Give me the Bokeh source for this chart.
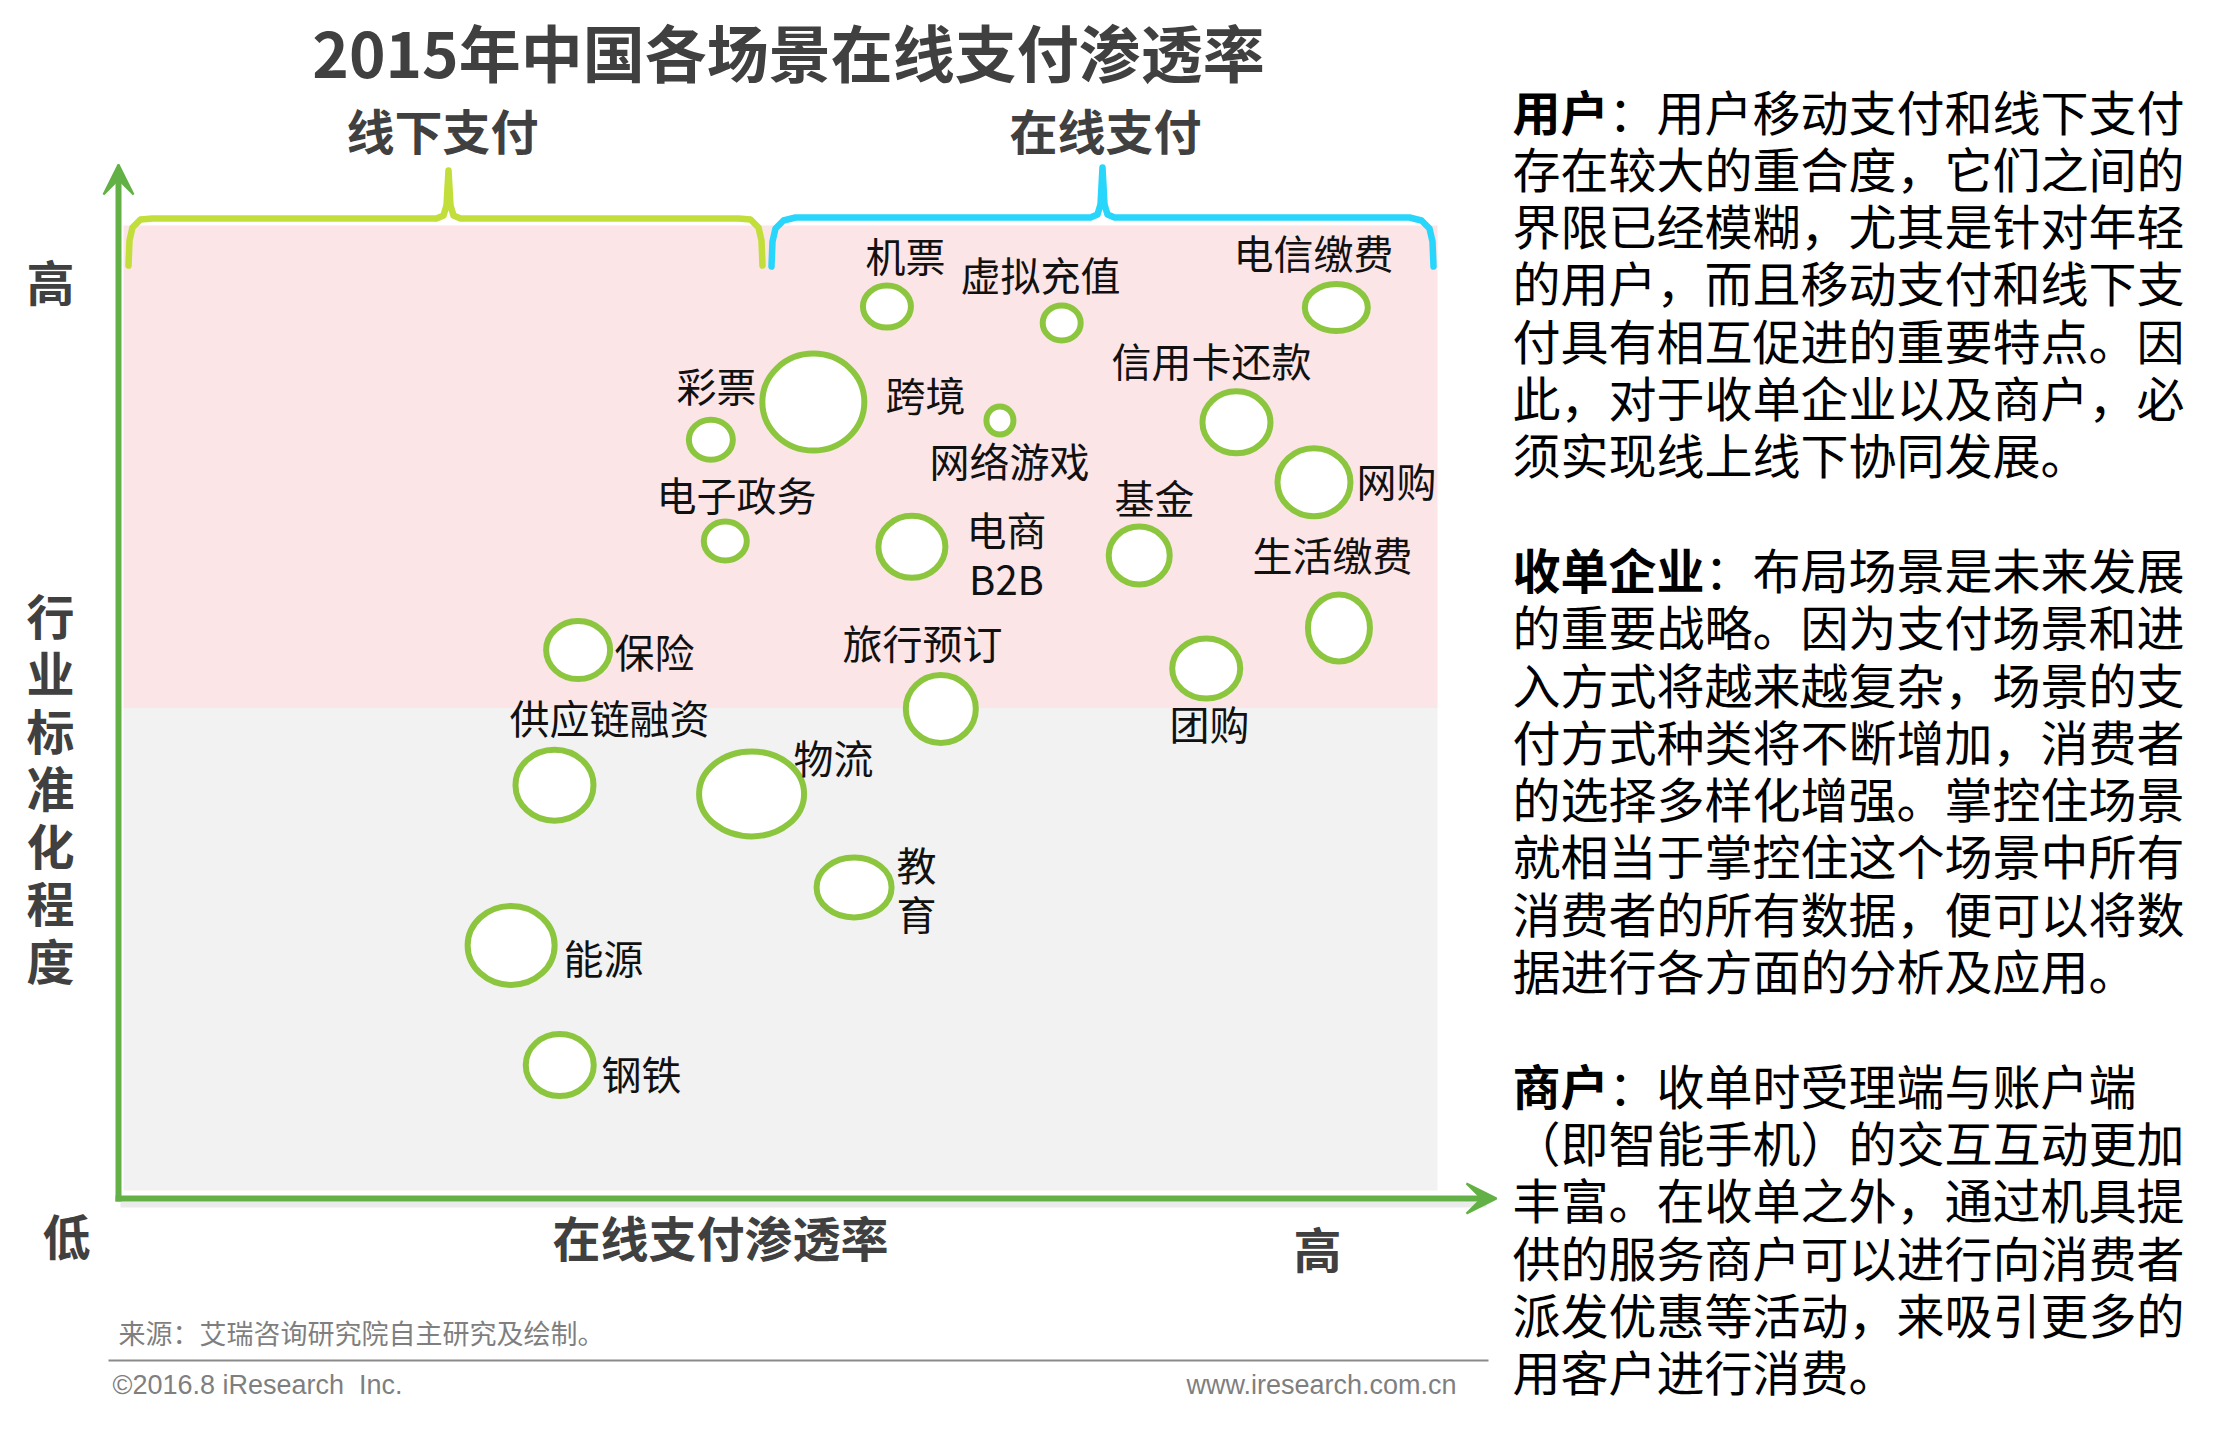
from bokeh.plotting import figure
from bokeh.models import Range1d, Arrow, VeeHead, ColumnDataSource
from bokeh.embed import file_html
from bokeh.resources import INLINE
from bokeh.core.properties import value

# ---------------- data ----------------
scenes = ["机票", "虚拟充值", "电信缴费", "彩票", "跨境", "网络游戏", "信用卡还款", "网购",
          "电子政务", "电商\nB2B", "基金", "生活缴费", "保险", "旅行预订", "团购",
          "供应链融资", "物流", "教\n育", "能源", "钢铁"]
# x: 在线支付渗透率 (0-100), y: 行业标准化程度 (0-100)
penetration = [58.1, 71.4, 92.3, 44.7, 52.5, 66.7, 84.7, 90.6,
               45.8, 60.0, 77.3, 92.5, 34.6, 62.2, 82.4,
               32.8, 47.8, 55.6, 29.5, 33.2]
standardization = [91.6, 89.9, 91.5, 77.8, 81.7, 79.8, 79.6, 73.4,
                   67.3, 66.7, 65.8, 58.3, 56.0, 49.9, 54.1,
                   42.0, 41.1, 31.4, 25.4, 13.0]
bubble_w = [54, 44, 69, 50, 108, 33, 74, 79, 49, 73, 67, 68, 70, 76, 74, 84, 111, 81, 93, 74]
bubble_h = [48, 41, 53, 46, 103, 34, 68, 74, 45, 68, 64, 73, 64, 74, 66, 77, 91, 66, 85, 68]

title = "2015年中国各场景在线支付渗透率"
group_labels = ["线下支付", "在线支付"]
y_axis_title = "行业标准化程度"
x_axis_title = "在线支付渗透率"

panel_lines = [
    ("用户", "：用户移动支付和线下支付"),
    ("", "存在较大的重合度，它们之间的"),
    ("", "界限已经模糊，尤其是针对年轻"),
    ("", "的用户，而且移动支付和线下支"),
    ("", "付具有相互促进的重要特点。因"),
    ("", "此，对于收单企业以及商户，必"),
    ("", "须实现线上线下协同发展。"),
    ("", ""),
    ("收单企业", "：布局场景是未来发展"),
    ("", "的重要战略。因为支付场景和进"),
    ("", "入方式将越来越复杂，场景的支"),
    ("", "付方式种类将不断增加，消费者"),
    ("", "的选择多样化增强。掌控住场景"),
    ("", "就相当于掌控住这个场景中所有"),
    ("", "消费者的所有数据，便可以将数"),
    ("", "据进行各方面的分析及应用。"),
    ("", ""),
    ("商户", "：收单时受理端与账户端"),
    ("", "（即智能手机）的交互互动更加"),
    ("", "丰富。在收单之外，通过机具提"),
    ("", "供的服务商户可以进行向消费者"),
    ("", "派发优惠等活动，来吸引更多的"),
    ("", "用客户进行消费。"),
]
source_text = "来源：艾瑞咨询研究院自主研究及绘制。"
copyright_text = "©2016.8 iResearch\u00a0\u00a0Inc."
site_text = "www.iresearch.com.cn"

# ---------------- layout (reference pixel geometry) ----------------
W, H = 2198, 1419
OFF = 0
TEXT_DY = -4             # small upward nudge for text
X0, X1 = 123.0, 1437.0   # data x = 0 / 100
Y0, Y1 = 1190.0, 225.0   # data y = 0 / 100
SX = (X1 - X0) / 100.0
SY = (Y0 - Y1) / 100.0


def dx(X):
    return (X - X0) / SX


def dy(Y):
    return (Y0 - Y) / SY


CJK = "Noto Sans CJK SC"
DARK = "#404040"
AXIS_GREEN = "#63b146"
BUBBLE_GREEN = "#8cc63f"
LIME = "#c2de3a"
CYAN = "#28d6fb"

p = figure(width=W, height=H, output_backend="svg", toolbar_location=None,
           x_range=Range1d((OFF - X0) / SX, (OFF + W - X0) / SX),
           y_range=Range1d((Y0 - (OFF + H)) / SY, (Y0 - OFF) / SY),
           min_border=0, outline_line_color=None, background_fill_color="white",
           border_fill_color="white")
p.axis.visible = False
p.grid.visible = False

# background zones
p.quad(left=[0], right=[100], bottom=[50], top=[100], fill_color="#fbe5e7", line_color=None)
p.quad(left=[0], right=[100], bottom=[0], top=[50], fill_color="#f2f2f2", line_color=None)


# brackets
def bracket(xl, xr, xc, yh, ytop, yend, color):
    xs = [xl, xl + 1, xl + 4, xl + 12, xl + 24, xc - 12, xc - 5, xc - 2, xc,
          xc + 2, xc + 5, xc + 12, xr - 24, xr - 12, xr - 4, xr - 1, xr]
    ys = [yend, yend - 25, yend - 38, yend - 46, yh, yh, yh - 3, yh - 13, ytop,
          yh - 13, yh - 3, yh, yh, yend - 46, yend - 38, yend - 25, yend]
    ys = [min(yv, yh) if i not in (0, 1, 2, 3, 13, 14, 15, 16) else yv for i, yv in enumerate(ys)]
    p.line([dx(v) for v in xs], [dy(v) for v in ys], line_color=color, line_width=6.5,
           line_join="round", line_cap="round")


bracket(128, 762, 448, 218, 170, 265, LIME)
bracket(771, 1433, 1102, 217, 167, 266, CYAN)

# axes with arrows (and a soft shadow)
p.line([dx(120), dx(1486)], [dy(1204), dy(1204)], line_color="#000000", line_alpha=0.08, line_width=6)
p.add_layout(Arrow(x_start=dx(118), y_start=dy(1201), x_end=dx(118), y_end=dy(164),
                   line_color=AXIS_GREEN, line_width=6,
                   end=VeeHead(size=30, fill_color=AXIS_GREEN, line_color=AXIS_GREEN, line_width=2)))
p.add_layout(Arrow(x_start=dx(115), y_start=dy(1198), x_end=dx(1496), y_end=dy(1198),
                   line_color=AXIS_GREEN, line_width=6,
                   end=VeeHead(size=30, fill_color=AXIS_GREEN, line_color=AXIS_GREEN, line_width=2)))

# bubbles
src = ColumnDataSource(dict(x=penetration, y=standardization,
                            w=[v - 6 for v in bubble_w], h=[v - 6 for v in bubble_h],
                            name=scenes))
p.ellipse(x="x", y="y", width="w", height="h", width_units="screen", height_units="screen",
          source=src, fill_color="white", line_color=BUBBLE_GREEN, line_width=6)

# bubble labels (layout positions in reference pixels)
label_pos = [(905, 258), (1040, 277), (1313, 255), (716, 388), (925, 397), (1009, 463),
             (1211, 363), (1396, 483), (736, 497), (1006, 557), (1154, 500), (1332, 557),
             (654, 654), (922, 645), (1209, 726), (609, 720), (833, 760), (916, 892),
             (603, 960), (641, 1076)]
p.text(x=[dx(a) for a, b in label_pos], y=[dy(b + TEXT_DY) for a, b in label_pos], text=scenes,
       text_font=value(CJK), text_font_size="40px", text_color="#111111",
       text_align="center", text_baseline="middle", text_line_height=0.85)


def add_text(X, Y, s, size, color, bold=False, align="center", font=CJK, x_offset=0):
    p.text(x=[dx(X)], y=[dy(Y + TEXT_DY)], text=[s], text_font=value(font),
           text_font_size=f"{size}px", text_color=color,
           text_font_style="bold" if bold else "normal",
           text_align=align, text_baseline="middle", x_offset=x_offset)


# titles
add_text(788, 54, title, 62, DARK, bold=True)
add_text(442, 132, group_labels[0], 48, DARK, bold=True)
add_text(1105, 132, group_labels[1], 48, DARK, bold=True)
add_text(50, 283, "高", 48, DARK, bold=True)
for i, ch in enumerate(y_axis_title):
    add_text(50, 617 + i * 57.5, ch, 48, DARK, bold=True)
add_text(66, 1237, "低", 48, DARK, bold=True)
add_text(720, 1239, x_axis_title, 48, DARK, bold=True)
add_text(1317, 1250, "高", 48, DARK, bold=True)

# source & footer
add_text(118, 1336, source_text, 27, "#7f7f7f", align="left")
p.line([dx(108), dx(1488)], [dy(1360), dy(1360)], line_color="#8a8a8a", line_width=2)
add_text(112, 1388, copyright_text, 27, "#7f7f7f", align="left", font="Liberation Sans")
add_text(1456, 1388, site_text, 27, "#7f7f7f", align="right", font="Liberation Sans")

# right panel
PX, PY0, PSTEP, PSIZE = 1512, 113, 57.3, 48
for i, (bold_part, rest) in enumerate(panel_lines):
    yy = PY0 + i * PSTEP
    if bold_part:
        add_text(PX, yy, bold_part, PSIZE, "#000000", bold=True, align="left")
    if rest:
        add_text(PX, yy, rest, PSIZE, "#000000", align="left", x_offset=len(bold_part) * PSIZE)

open("out.html", "w").write(file_html(p, INLINE))
